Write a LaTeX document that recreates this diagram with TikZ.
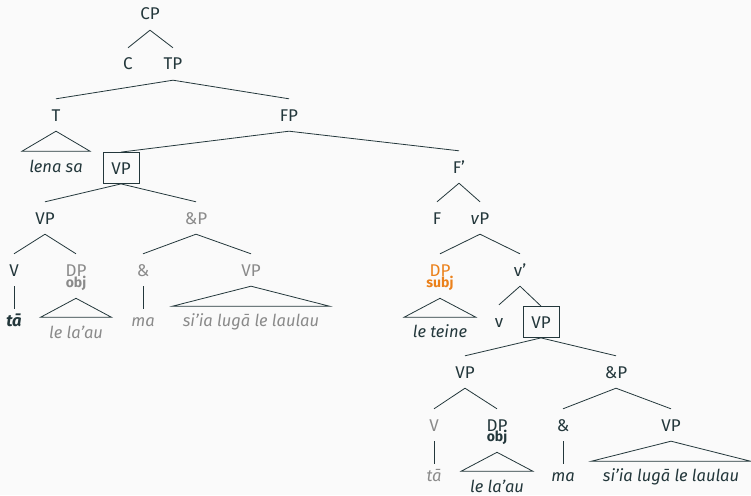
\documentclass[tikz,border=0pt]{standalone}
\usepackage{fontspec}
\setmainfont{Fira Sans}
\definecolor{ink}{HTML}{23373B}
\definecolor{faint}{HTML}{8A8A8A}
\definecolor{accent}{HTML}{EB811B}
\definecolor{paper}{HTML}{FAFAFA}
\tikzset{
  cat/.style={text=ink, font=\fontsize{17}{20}\selectfont, text height=12pt, text depth=0pt, inner xsep=2pt, inner ysep=10pt, anchor=center},
  boxcat/.style={cat, draw=ink, line width=0.8pt, minimum width=36pt, minimum height=31pt, inner ysep=0pt},
  sub/.style={text=ink, font=\fontsize{14}{16}\selectfont\bfseries, inner sep=0pt, anchor=base},
  leaf/.style={text=ink, font=\fontsize{16.5}{19}\selectfont\itshape, text height=14pt, text depth=4pt, inner xsep=1pt, inner ysep=3pt, anchor=base},
  dim/.style={text=faint},
  hot/.style={text=accent},
  edge/.style={draw=ink, line width=0.8pt},
}
\begin{document}
\begin{tikzpicture}[x=1pt,y=-1pt]
\fill[paper] (0,0) rectangle (751,495);
\useasboundingbox (0,0) rectangle (751,495);

% upper spine
\node[cat] (cp) at (150,14) {CP};
\node[cat] (c) at (128,64) {C};
\node[cat] (tp) at (173,64) {TP};
\node[cat] (t) at (56,115) {T};
\node[cat] (fp) at (289,115) {FP};
\node[leaf] (lenasa) at (56,172) {lena sa};
\node[boxcat] (vpA) at (121,168) {VP};
\node[cat] (fbar) at (459,167) {F’};

\draw[edge] (cp.south) -- (c.north);
\draw[edge] (cp.south) -- (tp.north);
\draw[edge] (tp.south) -- (t.north);
\draw[edge] (tp.south) -- (fp.north);
\draw[edge] (t.south) -- ++(-34,20) -- ++(68,0) -- cycle;
\draw[edge] (fp.south) -- (vpA.north);
\draw[edge] (fp.south) -- (fbar.north);

% fronted VP
\node[cat] (vp1) at (45,218) {VP};
\node[cat,dim] (andp1) at (196,218) {\&P};
\node[cat] (v1) at (14,270) {V};
\node[cat,dim] (dp1) at (76,270) {DP};
\node[sub,text=faint] (obj1) at (76,287) {obj};
\node[leaf] (ta1) at (14,326.5) {\bfseries tā};
\node[leaf,dim] (laau1) at (76,338) {le la’au};
\node[cat,dim] (amp1) at (143,270) {\&};
\node[cat,dim] (vp2) at (251,270) {VP};
\node[leaf,dim] (ma1) at (143,326.5) {ma};
\node[leaf,dim] (siia1) at (251,326.5) {si’ia lugā le laulau};

\draw[edge] (vpA.south) -- (vp1.north);
\draw[edge] (vpA.south) -- (andp1.north);
\draw[edge] (vp1.south) -- (v1.north);
\draw[edge] (vp1.south) -- (dp1.north);
\draw[edge] (v1.south) -- (ta1.north);
\draw[edge] ([yshift=-8pt]obj1.south) -- ++(-35.5,19) -- ++(71,0) -- cycle;
\draw[edge] (andp1.south) -- (amp1.north);
\draw[edge] (andp1.south) -- (vp2.north);
\draw[edge] (amp1.south) -- (ma1.north);
\draw[edge] (vp2.south) -- ++(-78.5,20) -- ++(157,0) -- cycle;

% lower spine
\node[cat] (f) at (437,218) {F};
\node[cat] (vsmall) at (480,218) {\textit{v}P};
\node[cat,hot] (dps) at (440,270) {DP};
\node[sub,text=accent] (subj) at (440,287) {subj};
\node[leaf] (teine) at (440,337) {le teine};
\node[cat] (vbar) at (520,270) {v’};
\node[cat] (vhead) at (499,321) {v};
\node[boxcat] (vpB) at (541,322) {VP};

\draw[edge] (fbar.south) -- (f.north);
\draw[edge] (fbar.south) -- (vsmall.north);
\draw[edge] (vsmall.south) -- (dps.north);
\draw[edge] (vsmall.south) -- (vbar.north);
\draw[edge] ([yshift=-8pt]subj.south) -- ++(-36,19) -- ++(72,0) -- cycle;
\draw[edge] (vbar.south) -- (vhead.north);
\draw[edge] (vbar.south) -- (vpB.north);

% VP in situ
\node[cat] (vp3) at (465,372) {VP};
\node[cat] (andp2) at (616,372) {\&P};
\node[cat,dim] (v2) at (434,425) {V};
\node[cat] (dp2) at (497,425) {DP};
\node[sub] (obj2) at (497,441) {obj};
\node[leaf,dim] (ta2) at (434,481.5) {tā};
\node[leaf] (laau2) at (497,492) {le la’au};
\node[cat] (amp2) at (563,425) {\&};
\node[cat] (vp4) at (671,425) {VP};
\node[leaf] (ma2) at (563,481.5) {ma};
\node[leaf] (siia2) at (671,481.5) {si’ia lugā le laulau};

\draw[edge] (vpB.south) -- (vp3.north);
\draw[edge] (vpB.south) -- (andp2.north);
\draw[edge] (vp3.south) -- (v2.north);
\draw[edge] (vp3.south) -- (dp2.north);
\draw[edge] (v2.south) -- (ta2.north);
\draw[edge] ([yshift=-8pt]obj2.south) -- ++(-36,19) -- ++(72,0) -- cycle;
\draw[edge] (andp2.south) -- (amp2.north);
\draw[edge] (andp2.south) -- (vp4.north);
\draw[edge] (amp2.south) -- (ma2.north);
\draw[edge] (vp4.south) -- ++(-79.5,20) -- ++(159,0) -- cycle;
\end{tikzpicture}
\end{document}
